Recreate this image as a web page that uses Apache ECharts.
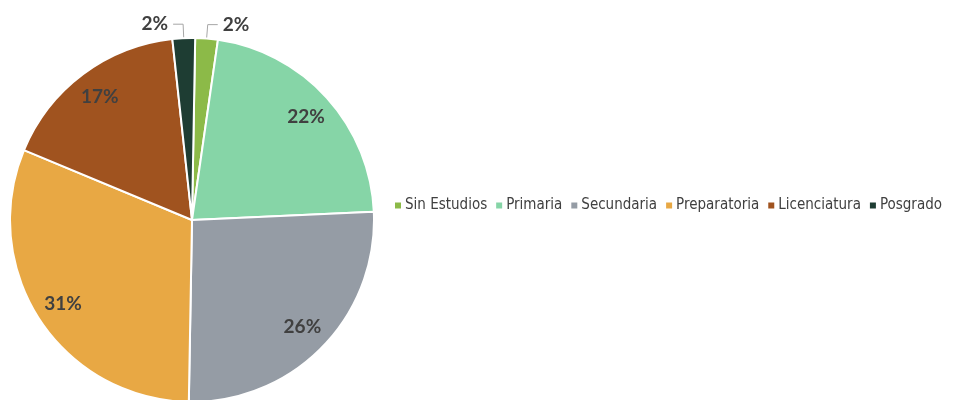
<!DOCTYPE html>
<html>
<head>
<meta charset="utf-8">
<script src="https://cdn.jsdelivr.net/npm/echarts@6/dist/echarts.min.js"></script>
<style>
  html, body { margin: 0; padding: 0; background: #fff; }
  #chart { width: 954px; height: 400px; }
</style>
</head>
<body>
<div id="chart"></div>
<script>
  // niveles de estudio
  const categories = ['Sin Estudios', 'Primaria', 'Secundaria', 'Preparatoria', 'Licenciatura', 'Posgrado']
  const values = [2, 22, 26, 31, 17, 2]
  const colors = ['#8cba48', '#86d5a7', '#959ca5', '#e8a844', '#a0531f', '#1e3d33']

  const labelFont = {
    fontFamily: 'Lato',
    fontWeight: 'bold',
    fontSize: 19,
    color: '#404040'
  }

  const chart = echarts.init(document.getElementById('chart'))

  const mainData = categories.map((name, i) => ({
    name: name,
    value: values[i],
    itemStyle: { color: colors[i] },
    label: { show: values[i] < 5 },
    labelLine: { show: values[i] < 5 }
  }))

  // capa transparente solo para colocar las etiquetas grandes cerca del borde
  const labelData = categories.map((name, i) => ({
    name: name,
    value: values[i],
    label: { show: values[i] >= 5 }
  }))

  chart.setOption({
    animation: false,
    legend: {
      orient: 'horizontal',
      left: 393,
      top: 198,
      width: 600,
      padding: 0,
      itemWidth: 8,
      itemHeight: 8,
      itemGap: 7,
      icon: 'rect',
      textStyle: {
        fontFamily: 'Liberation Sans Narrow, DejaVu Sans Condensed, sans-serif',
        fontSize: 15,
        color: '#404040',
        padding: [0, 0, 0, -2]
      },
      data: categories
    },
    series: [
      {
        type: 'pie',
        center: [192, 220],
        radius: [0, 182],
        startAngle: 89,
        clockwise: true,
        itemStyle: { borderColor: '#fff', borderWidth: 2 },
        label: Object.assign({
          position: 'outside',
          formatter: '{c}%'
        }, labelFont),
        labelLine: {
          length: 14,
          length2: 10,
          lineStyle: { color: '#a6a6a6', width: 1 }
        },
        data: mainData
      },
      {
        type: 'pie',
        center: [192, 220],
        radius: [120, 182],
        startAngle: 89,
        clockwise: true,
        silent: true,
        legendHoverLink: false,
        itemStyle: { color: 'rgba(0,0,0,0)', borderWidth: 0 },
        label: Object.assign({
          position: 'inside',
          formatter: '{c}%'
        }, labelFont),
        labelLine: { show: false },
        data: labelData
      }
    ]
  })
</script>
</body>
</html>
